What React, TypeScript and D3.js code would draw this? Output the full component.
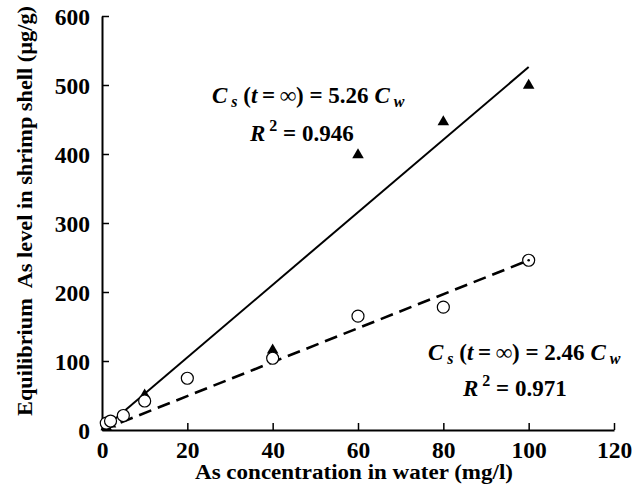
import { useEffect, useRef } from "react";
import * as d3 from "d3";

// concentration in water (mg/l)
const triX = [1, 2, 5, 10, 40, 60, 80, 100];
const triY = [6, 10, 22, 52, 117, 400, 448, 501];
const circX = [1, 2, 5, 10, 20, 40, 60, 80, 100];
const circY = [10, 13, 21, 42, 75, 104, 165, 178, 246];
const slopeSolid = 5.26;
const slopeDashed = 2.46;
const xTicks = [0, 20, 40, 60, 80, 100, 120];
const yTicks = [0, 100, 200, 300, 400, 500, 600];

const FONT = "Liberation Serif";

const App = () => {
  const ref = useRef<SVGSVGElement>(null);

  useEffect(() => {
    const width = 643;
    const height = 488;
    const margin = { top: 16, right: 29, bottom: 58, left: 102 };

    const svg = d3.select(ref.current);
    svg.selectAll("*").remove();

    const x = d3
      .scaleLinear()
      .domain([0, 120])
      .range([margin.left, width - margin.right]);
    const y = d3
      .scaleLinear()
      .domain([0, 600])
      .range([height - margin.bottom, margin.top]);

    // axes
    const xAxis = svg
      .append("g")
      .attr("transform", `translate(0,${y(0)})`)
      .call(
        d3
          .axisBottom(x)
          .tickValues(xTicks)
          .tickSizeInner(-7)
          .tickSizeOuter(0)
          .tickPadding(11)
          .tickFormat(d3.format("d"))
      );
    const yAxis = svg
      .append("g")
      .attr("transform", `translate(${x(0)},0)`)
      .call(
        d3
          .axisLeft(y)
          .tickValues(yTicks)
          .tickSizeInner(-7)
          .tickSizeOuter(0)
          .tickPadding(12)
          .tickFormat(d3.format("d"))
      );

    [xAxis, yAxis].forEach((g) => {
      g.attr("font-family", FONT).attr("font-size", 23.5).attr("font-weight", "bold");
      g.select(".domain").attr("stroke", "#000").attr("stroke-width", 2);
      g.selectAll(".tick line").attr("stroke", "#000").attr("stroke-width", 1.5);
      g.selectAll(".tick text").attr("fill", "#000");
    });
    xAxis.selectAll(".tick line").filter((d) => d === 0).remove();
    yAxis.selectAll(".tick line").filter((d) => d === 0).remove();
    yAxis.selectAll(".tick text").attr("dy", "0.34em");

    // fit lines
    const line = d3
      .line<number>()
      .x((d) => x(d))
      .y((d) => y(d));
    svg
      .append("path")
      .attr("d", line.y((d) => y(d * slopeSolid))([0, 100]))
      .attr("fill", "none")
      .attr("stroke", "#000")
      .attr("stroke-width", 2);
    svg
      .append("path")
      .attr("d", line.y((d) => y(d * slopeDashed))([0, 100]))
      .attr("fill", "none")
      .attr("stroke", "#000")
      .attr("stroke-width", 2.6)
      .attr("stroke-dasharray", "13,7");

    // triangles
    const tri = d3.symbol().type(d3.symbolTriangle).size(58);
    svg
      .append("g")
      .selectAll("path")
      .data(triX.map((v, i) => [v, triY[i]]))
      .join("path")
      .attr("d", tri)
      .attr("transform", (d) => `translate(${x(d[0])},${y(d[1]) + 1})`)
      .attr("fill", "#000");

    // circles
    svg
      .append("g")
      .selectAll("circle")
      .data(circX.map((v, i) => [v, circY[i]]))
      .join("circle")
      .attr("cx", (d) => x(d[0]))
      .attr("cy", (d) => y(d[1]))
      .attr("r", 6)
      .attr("fill", "#fff")
      .attr("stroke", "#000")
      .attr("stroke-width", 1.2);
    svg
      .append("circle")
      .attr("cx", x(100))
      .attr("cy", y(246))
      .attr("r", 1.3)
      .attr("fill", "#000");

    // axis titles
    svg
      .append("text")
      .attr("x", 354)
      .attr("y", 479)
      .attr("text-anchor", "middle")
      .attr("font-family", FONT)
      .attr("font-weight", "bold")
      .attr("font-size", 20.5)
      .attr("textLength", 318)
      .attr("lengthAdjust", "spacingAndGlyphs")
      .text("As concentration in water (mg/l)");
    svg
      .append("text")
      .attr("transform", `translate(32,211) rotate(-90)`)
      .attr("text-anchor", "middle")
      .attr("font-family", FONT)
      .attr("font-weight", "bold")
      .attr("font-size", 21)
      .attr("textLength", 410)
      .attr("lengthAdjust", "spacingAndGlyphs")
      .attr("xml:space", "preserve")
      .text("Equilibrium  As level in shrimp shell (\u00b5g/g)");

    // equations
    const eq = (x0: number, y0: number, k: string, r: string, rx: number, ry: number) => {
      const t = svg
        .append("text")
        .attr("x", x0)
        .attr("y", y0)
        .attr("font-family", FONT)
        .attr("font-weight", "bold")
        .attr("font-size", 23)
        .attr("xml:space", "preserve");
      t.append("tspan").attr("font-style", "italic").text("C");
      t.append("tspan").attr("font-style", "italic").attr("font-size", 16).attr("dy", 4).text(" s");
      t.append("tspan").attr("dy", -4).text(" (");
      t.append("tspan").attr("font-style", "italic").text("t");
      t.append("tspan").text("\u2009=\u2009\u221e) = " + k + " ");
      t.append("tspan").attr("font-style", "italic").text("C");
      t.append("tspan").attr("font-style", "italic").attr("font-size", 16).attr("dy", 4).text(" w");

      const t2 = svg
        .append("text")
        .attr("x", rx)
        .attr("y", ry)
        .attr("font-family", FONT)
        .attr("font-weight", "bold")
        .attr("font-size", 23)
        .attr("xml:space", "preserve");
      t2.append("tspan").attr("font-style", "italic").text("R");
      t2.append("tspan").attr("font-size", 16).attr("dy", -10).text(" 2");
      t2.append("tspan").attr("dy", 10).text(" = " + r);
    };
    eq(212, 103, "5.26", "0.946", 250, 141);
    eq(428, 360, "2.46", "0.971", 463, 396);
  }, []);

  return (
    <svg
      ref={ref}
      width={643}
      height={488}
      style={{ position: "absolute", left: 0, top: 0, background: "#fff", fontFamily: FONT }}
    />
  );
};

export default App;
